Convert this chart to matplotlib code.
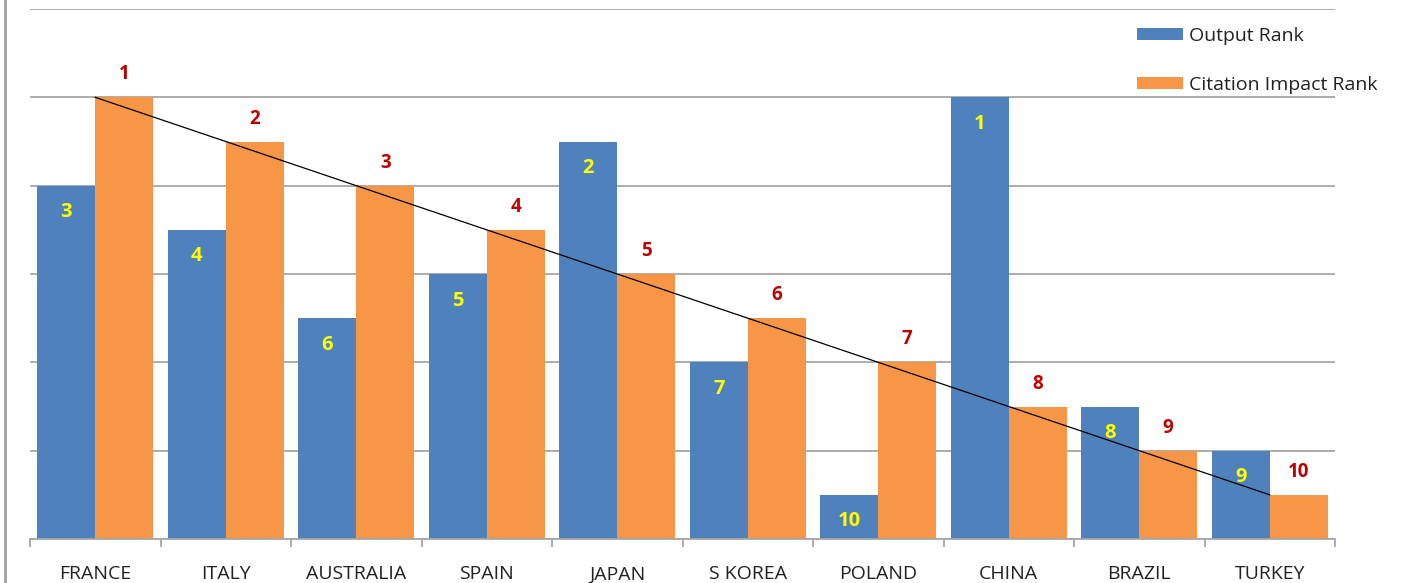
import matplotlib
matplotlib.use("Agg")
import matplotlib.pyplot as plt
from matplotlib.lines import Line2D
import numpy as np

countries = ["FRANCE", "ITALY", "AUSTRALIA", "SPAIN", "JAPAN", "S KOREA",
             "POLAND", "CHINA", "BRAZIL", "TURKEY"]
output_rank = [3, 4, 6, 5, 2, 7, 10, 1, 8, 9]
citation_rank = [1, 2, 3, 4, 5, 6, 7, 8, 9, 10]

blue = "#4F81BD"
orange = "#F79646"
grid_c = "#A6A6A6"

plt.rcParams['font.family'] = ['Open Sans', 'DejaVu Sans']

fig = plt.figure(figsize=(14.02, 5.83), dpi=100)
ax = fig.add_axes([30/1402, 1-539/583, (1335-30)/1402, (539-9)/583])

x = np.arange(len(countries))
out_h = [11 - r for r in output_rank]
cit_h = [11 - r for r in citation_rank]
w = 0.444

ax.bar(x - w/2, out_h, width=w, color=blue, label="Output Rank", zorder=2)
ax.bar(x + w/2, cit_h, width=w, color=orange, label="Citation Impact Rank", zorder=2)

ax.plot(x, cit_h, color="black", lw=0.9, zorder=3)

for xi, h, r in zip(x, out_h, output_rank):
    ax.text(xi - w/2, h - 0.6, str(r), ha="center", va="center", color="#FFFF00",
            fontsize=14.5, fontweight="bold", zorder=4)
for xi, h, r in zip(x, cit_h, citation_rank):
    ax.text(xi + w/2, h + 0.52, str(r), ha="center", va="center", color="#C00000",
            fontsize=13.5, fontweight="bold", zorder=4)

ax.set_xlim(-0.5, len(countries) - 0.5)
ax.set_ylim(0, 12)
ax.set_yticks(np.arange(0, 13, 2))
ax.yaxis.grid(True, color=grid_c, lw=1.3, zorder=0)
ax.tick_params(axis="y", left=False, labelleft=False)
for s in ["left", "right", "top"]:
    ax.spines[s].set_visible(False)
ax.spines["bottom"].set_color(grid_c)
ax.spines["bottom"].set_linewidth(1.3)

ax.set_xticks(x)
ax.set_xticklabels(countries, fontsize=14, color="#222222")
ax.tick_params(axis="x", length=0, pad=19)
ax.set_xticks(np.arange(-0.5, len(countries), 1), minor=True)
ax.tick_params(axis="x", which="minor", length=6, color=grid_c, width=1.3)

leg = fig.legend(loc="upper left", bbox_to_anchor=(1129/1402, 1-19/583),
                 frameon=False, fontsize=14, handlelength=2.4, handleheight=0.62,
                 labelspacing=1.6, handletextpad=0.3, borderaxespad=0)
for t in leg.get_texts():
    t.set_color("#222222")

fig.add_artist(Line2D([4.5/1402, 4.5/1402], [0, 1], color="#A0A0A0", lw=2,
                      transform=fig.transFigure))

fig.savefig("out.png", dpi=100)
